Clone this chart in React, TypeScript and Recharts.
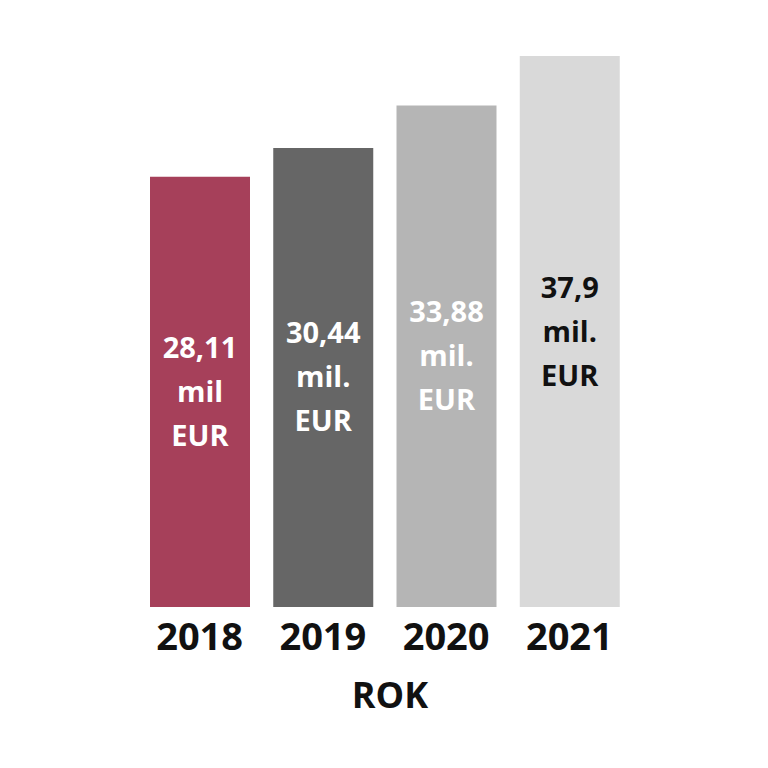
import { BarChart, Bar, XAxis, YAxis, Cell, LabelList, Label } from 'recharts'

const years = ['2018', '2019', '2020', '2021']
const revenue = [28.11, 30.44, 33.88, 37.9]
const valueLabels = ['28,11', '30,44', '33,88', '37,9']
const unitLabels = ['mil', 'mil.', 'mil.', 'mil.']
const colors = ['#a6405a', '#666666', '#b5b5b5', '#d9d9d9']
const labelColors = ['#ffffff', '#ffffff', '#ffffff', '#111111']

// the infographic's bars do not start at zero
const axisMin = -6.8
const axisMax = 37.9

const data = years.map((year, i) => ({ year, revenue: revenue[i] }))

const font = '"Open Sans", sans-serif'

const YearTick = (props: any) => {
  const { x, y, payload } = props
  return (
    <text x={x} y={y + 35} textAnchor="middle" fontFamily={font} fontWeight={700} fontSize={38} fill="#111111">
      {payload.value}
    </text>
  )
}

const BarText = (props: any) => {
  const { x, y, width, height, index } = props
  const cx = x + width / 2
  const cy = y + height / 2
  const lines = [valueLabels[index], unitLabels[index], 'EUR']
  return (
    <g>
      {lines.map((line, i) => (
        <text
          key={i}
          x={cx}
          y={cy + (i - 1) * 44}
          dy={10}
          textAnchor="middle"
          fontFamily={font}
          fontWeight={700}
          fontSize={29}
          fill={labelColors[index]}
        >
          {line}
        </text>
      ))}
    </g>
  )
}

export default function App() {
  return (
    <div style={{ position: 'absolute', left: 0, top: 0, width: 768, height: 768, background: '#fff' }}>
      <BarChart
        width={768}
        height={768}
        data={data}
        barCategoryGap={0}
        margin={{ top: 56, right: 137, left: 138, bottom: 0 }}
      >
        <XAxis
          dataKey="year"
          axisLine={false}
          tickLine={false}
          tick={<YearTick />}
          height={161}
          interval={0}
        >
          <Label
            content={(p: any) => {
              const vb = p.viewBox
              return (
                <text x={390} y={vb.y + 101} textAnchor="middle" fontFamily={font} fontWeight={700} fontSize={36} fill="#111111">
                  ROK
                </text>
              )
            }}
          />
        </XAxis>
        <YAxis hide domain={[axisMin, axisMax]} allowDataOverflow />
        <Bar dataKey={(d: any) => [axisMin, d.revenue]} barSize={100} isAnimationActive={false}>
          {data.map((d, i) => (
            <Cell key={d.year} fill={colors[i]} />
          ))}
          <LabelList dataKey="revenue" content={<BarText />} />
        </Bar>
      </BarChart>
    </div>
  )
}
